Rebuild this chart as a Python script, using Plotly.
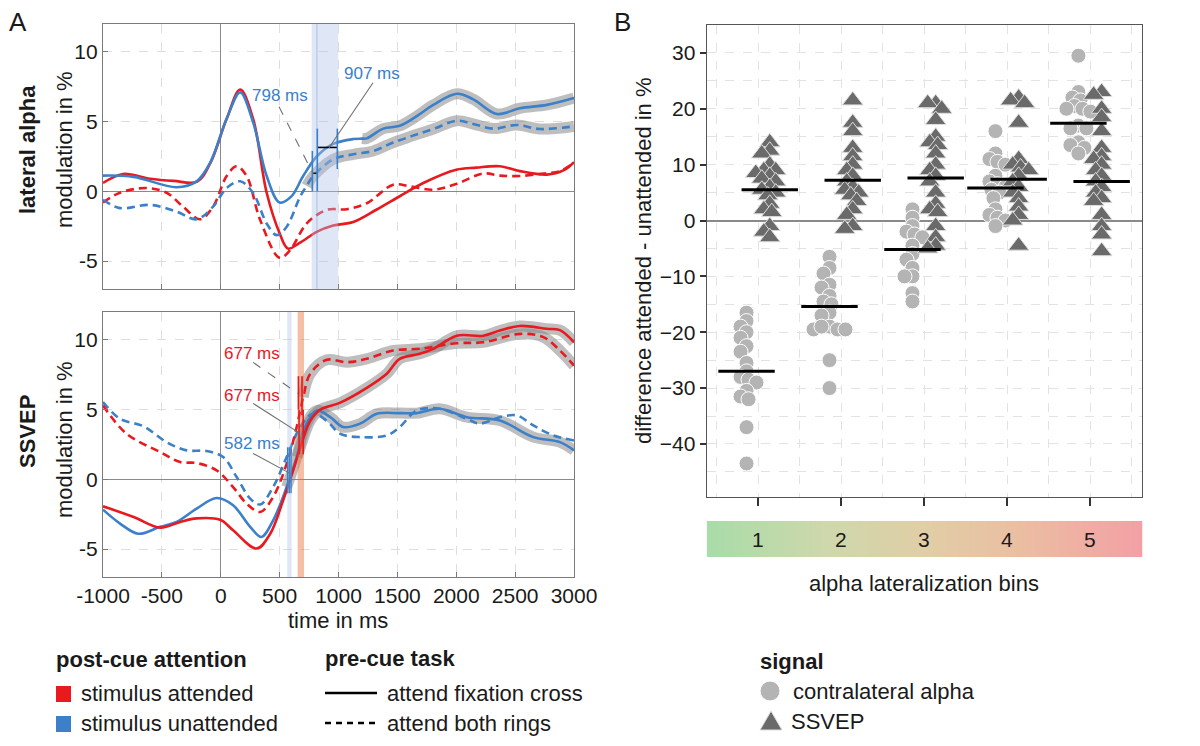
import numpy as np
import plotly.graph_objects as go

RED = '#e8191f'
BLUE = '#3b80c8'
HL = 'rgba(125,125,125,0.5)'
FONT = 'Liberation Sans, Arial, sans-serif'

# ---------------- Panel A: lateral alpha ----------------
la_att_fix_t = [-1000, -830, -600, -400, -200, -90, 50, 165, 275, 390, 500, 570, 670, 815, 955, 1125, 1325, 1520, 1720, 2000, 2170, 2370, 2540, 2770, 2910, 3000]
la_att_fix_v = [0.6, 1.25, 0.9, 0.75, 0.7, 2.0, 5.2, 7.3, 5.2, -0.1, -3.0, -4.1, -3.7, -2.9, -2.45, -2.2, -1.3, -0.35, 0.6, 1.55, 1.7, 1.8, 1.45, 1.2, 1.5, 2.1]
la_una_fix_t = [-1000, -740, -375, -205, -90, 50, 165, 275, 390, 500, 600, 700, 815, 955, 1125, 1200, 1240, 1380, 1520, 1665, 1805, 2005, 2145, 2345, 2540, 2770, 3000]
la_una_fix_v = [1.13, 1.04, 0.3, 0.72, 2.05, 5.2, 7.1, 4.95, 1.1, -0.8, -0.36, 1.1, 2.5, 3.4, 3.75, 3.78, 3.8, 4.5, 4.7, 5.4, 6.2, 7.0, 6.6, 5.55, 5.96, 6.2, 6.7]
la_att_both_t = [-1000, -855, -630, -460, -320, -175, -65, 50, 135, 220, 335, 500, 590, 730, 900, 1070, 1240, 1465, 1605, 1805, 2005, 2230, 2370, 2540, 2740, 2880, 3000]
la_att_both_v = [-0.8, -0.1, 0.24, -0.1, -1.1, -2.0, -1.1, 1.1, 1.8, 1.1, -2.05, -4.76, -4.2, -2.3, -1.33, -1.28, -0.85, 0.48, 0.36, 0.12, 0.55, 1.28, 1.13, 1.1, 1.28, 1.45, 2.05]
la_una_both_t = [-1000, -855, -600, -375, -205, -65, 50, 165, 275, 390, 475, 560, 675, 730, 785, 955, 1125, 1295, 1465, 1635, 1805, 2005, 2145, 2315, 2515, 2710, 3000]
la_una_both_v = [-0.6, -1.2, -0.97, -1.45, -2.0, -1.1, 0.24, 0.72, -0.12, -2.3, -3.14, -2.54, -0.36, 0.4, 1.09, 2.3, 2.66, 2.9, 3.5, 4.0, 4.47, 5.07, 4.83, 4.5, 4.76, 4.47, 4.66]

# ---------------- Panel A: SSVEP ----------------
ss_att_fix_t = [-1000, -740, -515, -345, -205, -5, 105, 305, 420, 530, 615, 650, 685, 760, 845, 1015, 1240, 1410, 1520, 1690, 1805, 2005, 2230, 2370, 2540, 2770, 2880, 3000]
ss_att_fix_v = [-1.93, -2.7, -3.46, -3.05, -2.8, -2.9, -3.65, -4.96, -3.9, -1.5, 0.64, 1.6, 2.55, 4.2, 5.0, 5.5, 6.56, 7.57, 8.64, 9.0, 9.36, 10.3, 10.3, 10.67, 11.0, 10.8, 10.7, 9.83]
ss_una_fix_t = [-1000, -855, -700, -515, -375, -205, -35, 105, 250, 345, 445, 560, 645, 715, 815, 930, 1040, 1185, 1325, 1520, 1665, 1860, 2090, 2370, 2655, 2880, 3000]
ss_una_fix_v = [-2.17, -3.17, -3.9, -3.4, -3.05, -2.1, -1.34, -1.86, -3.4, -4.13, -2.94, -0.55, 1.6, 3.75, 4.94, 4.46, 3.75, 4.0, 4.7, 4.75, 4.75, 5.06, 4.46, 4.22, 3.03, 2.67, 2.08]
ss_att_both_t = [-1000, -800, -515, -345, -205, -35, 105, 220, 335, 445, 560, 645, 700, 760, 900, 1070, 1240, 1465, 1690, 2005, 2230, 2540, 2740, 2880, 3000]
ss_att_both_v = [5.3, 3.27, 1.96, 1.24, 1.17, 0.64, -0.55, -1.74, -2.34, -1.26, 1.12, 3.75, 5.9, 7.57, 8.57, 8.4, 8.64, 9.24, 9.36, 9.76, 9.83, 10.43, 10.2, 9.24, 8.16]
ss_una_both_t = [-1000, -855, -655, -460, -290, -120, 20, 135, 250, 335, 445, 560, 675, 785, 900, 1015, 1185, 1410, 1520, 1665, 1860, 2090, 2200, 2370, 2515, 2655, 2825, 3000]
ss_una_both_v = [5.54, 4.34, 3.8, 2.67, 2.08, 2.03, 1.6, 0.17, -1.38, -1.8, -0.55, 1.6, 3.75, 4.7, 4.2, 3.27, 3.03, 3.15, 3.75, 4.94, 5.06, 4.34, 4.0, 4.46, 4.58, 3.87, 3.15, 2.79]

# significant-difference starts (gray highlight) in ms
la_sig_start = {'una_fix': 1200, 'una_both': 715}
ss_sig_start = {'att_fix': 645, 'att_both': 690, 'una_fix': 560}

# onset latencies (ms) and their intervals
la_onsets = [798, 907]
la_onset_lo = [778, 820]
la_onset_hi = [820, 990]
ss_onsets = [677, 677, 582]

# ---------------- Panel B ----------------
bins = [1, 2, 3, 4, 5]
alpha_b1 = [-16.5, -18, -19, -20, -21, -22.5, -23.5, -25.5, -27, -28, -28.5, -29, -30.5, -31.5, -32, -37, -43.5]
alpha_b2 = [-6.5, -8.5, -9.5, -11.5, -12, -13.5, -14.5, -15, -16.5, -17, -19, -19.5, -19.5, -19.5, -19, -25, -30]
alpha_b3 = [2, 0.5, -1, -2, -2.5, -3, -4.5, -6, -7, -8.5, -10, -10, -13, -14.5]
alpha_b4 = [16, 12, 11, 10.5, 10, 8, 7, 6.5, 6, 5.5, 5, 4, 2, 1, 0.5, 0, -1]
alpha_b5 = [29.5, 23, 22, 21.5, 20.5, 20, 20, 19.5, 17, 16.5, 16.5, 14, 13.5, 13, 12]
ssvep_b1 = [14, 12.5, 12, 10, 9, 9, 8.5, 8, 7.5, 7, 6, 5.5, 5, 4.5, 3, 2, 1.5, -1, -2, -3]
ssvep_b2 = [21.5, 17.5, 16, 13, 11.5, 10, 9, 8, 7, 6, 5.5, 5, 4.5, 3.5, 2, 1, -1, -1.5]
ssvep_b3 = [21, 21, 20, 18, 15, 14, 13.5, 12, 10, 9, 8, 7, 5, 3, 2, 1.5, -1, -3, -4.5, -5]
ssvep_b4 = [22, 21.5, 21, 17.5, 11, 10, 9.5, 9, 8, 7, 6, 5, 4, 2.5, 1, 0, -4.5]
ssvep_b5 = [23, 22.5, 20, 18.5, 16, 13, 11.5, 11, 10, 9, 8, 7, 6, 5, 4, 3.5, 1, -1, -2.5, -5.5]
alpha_median = [-27.0, -15.4, -5.2, 5.8, 17.4]
ssvep_median = [5.5, 7.2, 7.6, 7.4, 7.0]

alpha_groups = [alpha_b1, alpha_b2, alpha_b3, alpha_b4, alpha_b5]
ssvep_groups = [ssvep_b1, ssvep_b2, ssvep_b3, ssvep_b4, ssvep_b5]


def swarm(vals, center, dmin=8.0, pxx=83.1, pxy=5.58):
    placed = []
    xs = [0.0] * len(vals)
    order = sorted(range(len(vals)), key=lambda i: -vals[i])
    for i in order:
        v = vals[i]
        best = None
        for k in range(0, 60):
            cands = [0.0] if k == 0 else ([k * 1.0, -k * 1.0] if k % 2 else [-k * 1.0, k * 1.0])
            for off in cands:
                if all((off - po) ** 2 + ((v - pv) * pxy) ** 2 >= dmin ** 2 for po, pv in placed):
                    best = off
                    break
            if best is not None:
                break
        placed.append((best, v))
        xs[i] = center + best / pxx
    return xs


fig = go.Figure()


def add_series(t, v, color, dash, xa, ya, sig=None):
    if sig is not None:
        tt = [a for a in t if a >= sig]
        vv = [b for a, b in zip(t, v) if a >= sig]
        fig.add_trace(go.Scatter(x=tt, y=vv, mode='lines', xaxis=xa, yaxis=ya,
                                 line=dict(color=HL, width=11, shape='spline', smoothing=1),
                                 hoverinfo='skip', showlegend=False))
    return dict(x=t, y=v, mode='lines', xaxis=xa, yaxis=ya,
                line=dict(color=color, width=2.6, dash=dash, shape='spline', smoothing=1),
                showlegend=False)


DASH = '8px,5px'
top = [
    add_series(la_att_fix_t, la_att_fix_v, RED, 'solid', 'x', 'y'),
    add_series(la_att_both_t, la_att_both_v, RED, DASH, 'x', 'y'),
    add_series(la_una_both_t, la_una_both_v, BLUE, DASH, 'x', 'y', la_sig_start['una_both']),
    add_series(la_una_fix_t, la_una_fix_v, BLUE, 'solid', 'x', 'y', la_sig_start['una_fix']),
]
bot = [
    add_series(ss_una_both_t, ss_una_both_v, BLUE, DASH, 'x2', 'y2'),
    add_series(ss_att_both_t, ss_att_both_v, RED, DASH, 'x2', 'y2', ss_sig_start['att_both']),
    add_series(ss_una_fix_t, ss_una_fix_v, BLUE, 'solid', 'x2', 'y2', ss_sig_start['una_fix']),
    add_series(ss_att_fix_t, ss_att_fix_v, RED, 'solid', 'x2', 'y2', ss_sig_start['att_fix']),
]
for d in top + bot:
    fig.add_trace(go.Scatter(**d))

# ---- panel B points ----
for i, b in enumerate(bins):
    xs = swarm(alpha_groups[i], b - 0.14)
    fig.add_trace(go.Scatter(x=xs, y=alpha_groups[i], mode='markers', xaxis='x3', yaxis='y3',
                             marker=dict(symbol='circle', size=15, color='#b4b4b4',
                                         line=dict(color='white', width=1)),
                             showlegend=False))
for i, b in enumerate(bins):
    xs = swarm(ssvep_groups[i], b + 0.14)
    fig.add_trace(go.Scatter(x=xs, y=ssvep_groups[i], mode='markers', xaxis='x3', yaxis='y3',
                             marker=dict(symbol='triangle-up', size=18, color='#6a6a6a',
                                         line=dict(color='#dddddd', width=1)),
                             showlegend=False))
for i, b in enumerate(bins):
    for c, m in ((b - 0.14, alpha_median[i]), (b + 0.14, ssvep_median[i])):
        fig.add_trace(go.Scatter(x=[c - 0.34, c + 0.34], y=[m, m], mode='lines', xaxis='x3', yaxis='y3',
                                 line=dict(color='black', width=3), showlegend=False))

# ---- gradient bar ----
gx = np.linspace(0.38, 5.63, 300)
fig.add_trace(go.Heatmap(x=gx, y=[0], z=[gx], xaxis='x4', yaxis='y4', showscale=False, zsmooth='best',
                         colorscale=[[0, 'rgb(168,220,168)'], [0.27, 'rgb(206,216,172)'],
                                     [0.5, 'rgb(224,206,166)'], [0.72, 'rgb(235,190,162)'],
                                     [1, 'rgb(243,160,165)']], hoverinfo='skip'))

# page offset (browser body margin) compensation
OFF = 8.0


def py(p):
    return 1 - (p - OFF) / 746.0


def px(p):
    return (p - OFF) / 1200.0


tick_font = dict(family=FONT, size=21, color='#1a1a1a')
left_common = dict(range=[-1000, 3000], tickvals=[-1000, -500, 0, 500, 1000, 1500, 2000, 2500, 3000],
                   ticktext=['-1000', '-500', '0', '500', '1000', '1500', '2000', '2500', '3000'],
                   showline=True, mirror=True, linecolor='#7a7a7a', linewidth=1.3,
                   ticks='inside', ticklen=5, tickcolor='#7a7a7a', automargin=False,
                   showgrid=True, gridcolor='#dedede', griddash='dash', gridwidth=1,
                   zeroline=True, zerolinecolor='#8a8a8a', zerolinewidth=1.3, tickfont=tick_font)
lefty_common = dict(range=[-7, 12], tickvals=[-5, 0, 5, 10], ticktext=['-5', '0', '5', '10'],
                    showline=True, mirror=True, linecolor='#7a7a7a', linewidth=1.3,
                    ticks='inside', ticklen=5, tickcolor='#7a7a7a', automargin=False,
                    showgrid=True, gridcolor='#dedede', griddash='dash', gridwidth=1,
                    zeroline=True, zerolinecolor='#8a8a8a', zerolinewidth=1.3, tickfont=tick_font)

fig.update_layout(
    width=1200, height=746, margin=dict(l=0, r=0, t=0, b=0, autoexpand=False),
    paper_bgcolor='white', plot_bgcolor='white', showlegend=False,
    font=dict(family=FONT, color='#1a1a1a'),
    xaxis=dict(domain=[px(103), px(574)], anchor='y', showticklabels=False, **{k: v for k, v in left_common.items() if k != 'tickfont'}),
    yaxis=dict(domain=[py(289), py(24)], anchor='x', **lefty_common),
    xaxis2=dict(domain=[px(103), px(574)], anchor='y2', **left_common),
    yaxis2=dict(domain=[py(577), py(312)], anchor='x2', **lefty_common),
    xaxis3=dict(domain=[px(706.7), px(1142.3)], anchor='y3', range=[0.38, 5.63], automargin=False,
                tickvals=bins, showticklabels=False, ticks='outside', ticklen=8, tickwidth=2,
                tickcolor='#333333', showline=True, mirror=True, linecolor='#555555', linewidth=1.3,
                showgrid=True, gridcolor='#e3e3e3', griddash='dash',
                minor=dict(tickvals=[0.5, 1.5, 2.5, 3.5, 4.5, 5.5], showgrid=True,
                           gridcolor='#e3e3e3', griddash='dash', ticks=''),
                zeroline=False),
    yaxis3=dict(domain=[py(497), py(25)], anchor='x3', range=[-49.5, 35], tickvals=[-40, -30, -20, -10, 0, 10, 20, 30],
                ticks='outside', ticklen=6, tickwidth=1.5, tickcolor='#333333', tickfont=tick_font, automargin=False,
                showline=True, mirror=True, linecolor='#555555', linewidth=1.3,
                showgrid=True, gridcolor='#e3e3e3', griddash='dash',
                minor=dict(dtick=5, tick0=0, showgrid=True, gridcolor='#e3e3e3', griddash='dash', ticks=''),
                zeroline=True, zerolinecolor='#8a8a8a', zerolinewidth=1.5),
    xaxis4=dict(domain=[px(706.7), px(1142.3)], anchor='y4', range=[0.38, 5.63], visible=False, automargin=False),
    yaxis4=dict(domain=[py(557), py(521)], anchor='x4', range=[-0.5, 0.5], visible=False, automargin=False),
)

shapes = []
ann = []

# vertical bands
shapes.append(dict(type='rect', xref='x', yref='y domain', x0=772, x1=998, y0=0, y1=1,
                   fillcolor='rgb(175,195,235)', opacity=0.4, line=dict(width=0), layer='above'))
shapes.append(dict(type='line', xref='x', yref='y domain', x0=817, x1=817, y0=0, y1=1,
                   line=dict(color='rgba(110,140,210,0.35)', width=1.2), layer='above'))
shapes.append(dict(type='rect', xref='x2', yref='y2 domain', x0=565, x1=602, y0=0, y1=1,
                   fillcolor='rgb(175,195,235)', opacity=0.4, line=dict(width=0), layer='above'))
shapes.append(dict(type='rect', xref='x2', yref='y2 domain', x0=653, x1=707, y0=0, y1=1,
                   fillcolor='rgb(235,110,55)', opacity=0.45, line=dict(width=0), layer='above'))

# onset interval markers, lateral alpha
for t0, a, b in [(la_onset_lo[0], 0, 2.9), (la_onset_lo[1], 0, 4.5), (la_onset_hi[1], 1.6, 4.5)]:
    shapes.append(dict(type='line', xref='x', yref='y', x0=t0, x1=t0, y0=a, y1=b,
                       line=dict(color=BLUE, width=1.6), layer='above'))
shapes.append(dict(type='line', xref='x', yref='y', x0=la_onset_lo[1] + 7, x1=la_onset_hi[1] - 5, y0=3.15, y1=3.15,
                   line=dict(color='black', width=1.6), layer='above'))
shapes.append(dict(type='line', xref='x', yref='y', x0=la_onset_lo[0] + 7, x1=la_onset_hi[0] - 8, y0=1.3, y1=1.3,
                   line=dict(color='black', width=1.3), layer='above'))
# onset markers, SSVEP
for t0, a, b in [(660, 5.0, 7.4), (690, 4.6, 7.4), (665, 1.8, 5.0), (700, 1.8, 5.0)]:
    shapes.append(dict(type='line', xref='x2', yref='y2', x0=t0, x1=t0, y0=a, y1=b,
                       line=dict(color=RED, width=1.6), layer='above'))
for t0 in [568, 582, 597]:
    shapes.append(dict(type='line', xref='x2', yref='y2', x0=t0, x1=t0, y0=-1.0, y1=2.3,
                       line=dict(color=BLUE, width=1.4), layer='above'))

# connectors
conn = [('x', 'y', 495, 6.07, 775, 1.41, 'dash'), ('x', 'y', 1293, 7.79, 919, 3.13, 'solid'),
        ('x2', 'y2', 274, 8.39, 656, 6.16, 'dash'), ('x2', 'y2', 274, 5.45, 673, 3.30, 'solid'),
        ('x2', 'y2', 274, 1.86, 588, 0.43, 'solid')]
for xr, yr, x0, y0, x1, y1, ds in conn:
    shapes.append(dict(type='line', xref=xr, yref=yr, x0=x0, y0=y0, x1=x1, y1=y1,
                       line=dict(color='#707070', width=1.1, dash=ds), layer='above'))

lab_font = lambda c: dict(family=FONT, size=17, color=c)
ann.append(dict(xref='x', yref='y', x=503, y=6.86, text=f'{la_onsets[0]} ms', showarrow=False, font=lab_font(BLUE)))
ann.append(dict(xref='x', yref='y', x=1284, y=8.44, text=f'{la_onsets[1]} ms', showarrow=False, font=lab_font(BLUE)))
ann.append(dict(xref='x2', yref='y2', x=265, y=9.03, text=f'{ss_onsets[0]} ms', showarrow=False, font=lab_font(RED)))
ann.append(dict(xref='x2', yref='y2', x=265, y=6.02, text=f'{ss_onsets[1]} ms', showarrow=False, font=lab_font(RED)))
ann.append(dict(xref='x2', yref='y2', x=265, y=2.58, text=f'{ss_onsets[2]} ms', showarrow=False, font=lab_font(BLUE)))

# bin labels on gradient
for b in bins:
    ann.append(dict(xref='x4', yref='y4', x=b, y=0, text=str(b), showarrow=False,
                    font=dict(family=FONT, size=21, color='#1a1a1a')))

big = dict(family=FONT, size=22, color='#1a1a1a')
bold = dict(family=FONT, size=22, color='#1a1a1a')


def pa(x, y, text, font, xanchor='center', angle=0):
    ann.append(dict(xref='paper', yref='paper', x=px(x), y=py(y), text=text, showarrow=False,
                    font=font, xanchor=xanchor, yanchor='middle', textangle=angle))


pa(18, 22, 'A', dict(family=FONT, size=26, color='#1a1a1a'))
pa(622, 22, 'B', dict(family=FONT, size=26, color='#1a1a1a'))
pa(27, 150, '<b>lateral alpha</b>', bold, angle=-90)
pa(27, 432, '<b>SSVEP</b>', bold, angle=-90)
pa(64, 150, 'modulation in %', big, angle=-90)
pa(64, 440, 'modulation in %', big, angle=-90)
pa(338, 620, 'time in ms', big)
pa(643, 261, 'difference attended - unattended in %', big, angle=-90)
pa(924, 583, 'alpha lateralization bins', big)

# legends
pa(54, 659, '<b>post-cue attention</b>', bold, 'left')
shapes.append(dict(type='rect', xref='paper', yref='paper', x0=px(56), x1=px(71), y0=py(702), y1=py(686),
                   fillcolor=RED, line=dict(width=0)))
pa(79, 693, 'stimulus attended', big, 'left')
shapes.append(dict(type='rect', xref='paper', yref='paper', x0=px(56), x1=px(71), y0=py(732), y1=py(716),
                   fillcolor=BLUE, line=dict(width=0)))
pa(79, 723, 'stimulus unattended', big, 'left')

pa(323, 658, '<b>pre-cue task</b>', bold, 'left')
shapes.append(dict(type='line', xref='paper', yref='paper', x0=px(325), x1=px(377), y0=py(693), y1=py(693),
                   line=dict(color='black', width=2.5)))
pa(385, 693, 'attend fixation cross', big, 'left')
shapes.append(dict(type='line', xref='paper', yref='paper', x0=px(325), x1=px(377), y0=py(723), y1=py(723),
                   line=dict(color='black', width=2.5, dash='6px,5px')))
pa(385, 723, 'attend both rings', big, 'left')

pa(758, 661, '<b>signal</b>', bold, 'left')
shapes.append(dict(type='circle', xref='paper', yref='paper', x0=px(760), x1=px(780), y0=py(701), y1=py(681),
                   fillcolor='#b4b4b4', line=dict(color='white', width=1)))
pa(791, 691, 'contralateral alpha', big, 'left')
shapes.append(dict(type='path', xref='paper', yref='paper',
                   path=f'M {px(760)} {py(730)} L {px(782)} {py(730)} L {px(771)} {py(711)} Z',
                   fillcolor='#6a6a6a', line=dict(color='#dddddd', width=1)))
pa(789, 721, 'SSVEP', big, 'left')

fig.update_layout(shapes=shapes, annotations=ann)
fig.write_html('out.html')
